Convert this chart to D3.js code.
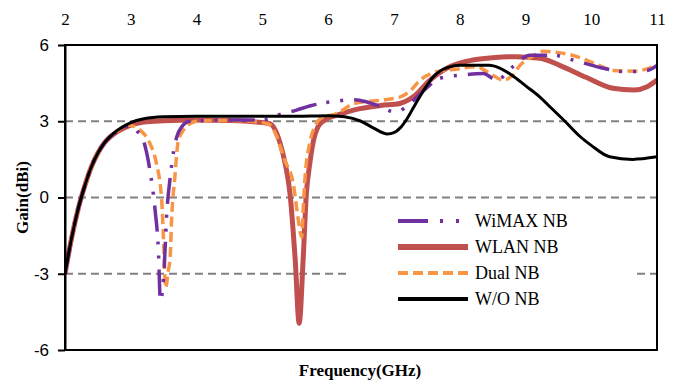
<!DOCTYPE html>
<html>
<head>
<meta charset="utf-8">
<script src="https://cdn.jsdelivr.net/npm/d3@7"></script>
<style>
  body { margin: 0; background: #fff; }
  .serif { font-family: "Liberation Serif", "Times New Roman", serif; }
  .sans { font-family: "Liberation Sans", Arial, sans-serif; }
</style>
</head>
<body>
<div id="chart"></div>
<script>
// frequency ticks (GHz) and gain ticks (dBi)
var freqTicks = [2, 3, 4, 5, 6, 7, 8, 9, 10, 11];
var gainTicks = [-6, -3, 0, 3, 6];
var gridValues = [-3, 0, 3];

// [frequency, gain]
var wimaxNB = [[2.0,-3],[2.1,-1.6],[2.2,-0.45],[2.3,0.45],[2.4,1.2],[2.5,1.75],[2.6,2.15],[2.8,2.62],[3.0,2.82],[3.1,2.6],
  [3.19,2.26],[3.29,1.08],[3.37,-0.5],[3.42,-2.07],[3.45,-4.05],[3.5,-3.12],[3.55,-0.5],[3.6,0.8],[3.65,1.8],[3.7,2.39],
  [3.78,2.8],[3.9,3.0],[4.5,3.05],[5.0,3.05],[5.27,3.27],[5.52,3.44],[5.72,3.6],[6.15,3.8],[6.4,3.85],[6.6,3.75],
  [6.8,3.57],[6.95,3.4],[7.04,3.37],[7.19,3.57],[7.45,4.2],[7.7,4.69],[8.05,4.82],[8.36,4.88],[8.56,4.62],[8.81,5.15],
  [9.07,5.6],[9.42,5.6],[9.72,5.41],[10.08,5.15],[10.53,4.95],[10.85,5.0],[11,5.2]];

var wlanNB = [[2.0,-3],[2.1,-1.6],[2.2,-0.45],[2.3,0.45],[2.4,1.2],[2.5,1.75],[2.6,2.15],[2.8,2.6],[3.0,2.85],[3.2,2.97],
  [3.5,3.02],[4.0,3.05],[4.5,3.03],[5.0,2.95],[5.12,2.9],[5.27,2.14],[5.35,1.3],[5.42,0.17],[5.5,-2.46],[5.56,-4.95],
  [5.62,-2.46],[5.67,0.17],[5.72,1.3],[5.77,2.14],[5.85,2.8],[5.95,3.05],[6.15,3.25],[6.4,3.45],[6.8,3.62],[7.09,3.7],
  [7.3,3.97],[7.55,4.62],[7.8,5.08],[8.2,5.41],[8.5,5.5],[8.85,5.54],[9.22,5.48],[9.52,5.2],[9.93,4.72],[10.33,4.3],
  [10.65,4.23],[10.85,4.36],[11,4.62]];

var dualNB = [[2.0,-3],[2.1,-1.6],[2.2,-0.45],[2.3,0.45],[2.4,1.2],[2.5,1.75],[2.6,2.15],[2.8,2.62],[2.94,2.85],[3.05,2.8],
  [3.14,2.65],[3.29,2.13],[3.39,1.34],[3.47,-0.1],[3.5,-1.8],[3.53,-3.55],[3.57,-2.9],[3.6,-2.3],[3.62,-0.9],[3.67,0.8],
  [3.72,2.2],[3.8,2.65],[3.9,2.9],[4.05,3.02],[4.5,3.03],[5.0,2.95],[5.12,2.85],[5.22,2.39],[5.34,1.47],[5.47,0.55],
  [5.54,-0.76],[5.6,-1.55],[5.62,-0.5],[5.65,0.8],[5.72,2.14],[5.8,2.8],[5.88,3.1],[6.13,3.3],[6.4,3.7],[6.8,3.83],
  [7.09,3.95],[7.25,4.2],[7.4,4.62],[7.65,4.95],[7.95,5.05],[8.25,5.15],[8.46,4.88],[8.66,4.62],[8.8,4.8],[8.92,5.21],
  [9.1,5.55],[9.27,5.75],[9.5,5.7],[9.68,5.62],[10.03,5.3],[10.33,5.0],[10.65,4.97],[11,5.2]];

var woNB = [[2.0,-3],[2.1,-1.6],[2.2,-0.45],[2.3,0.45],[2.4,1.2],[2.5,1.75],[2.6,2.15],[2.8,2.65],[3.0,2.95],[3.2,3.1],
  [3.5,3.18],[4.0,3.2],[5.0,3.2],[5.5,3.2],[6.0,3.22],[6.25,3.18],[6.5,3.0],[6.7,2.72],[6.9,2.5],[7.0,2.55],
  [7.1,2.75],[7.2,3.1],[7.3,3.55],[7.45,4.2],[7.6,4.75],[7.8,5.1],[8.0,5.2],[8.45,5.2],[8.6,5.1],[8.8,4.8],
  [9.0,4.4],[9.2,4.0],[9.4,3.5],[9.6,3.0],[9.83,2.4],[10.0,2.05],[10.28,1.6],[10.63,1.5],[11,1.6]];

var seriesNames = ["WiMAX NB", "WLAN NB", "Dual NB", "W/O NB"];

var width = 683, height = 385;
var margin = {top: 45, right: 26, bottom: 35, left: 65};
var w = width - margin.left - margin.right,
    h = height - margin.top - margin.bottom;

var svg = d3.select("#chart").append("svg")
    .attr("width", width)
    .attr("height", height);

var g = svg.append("g")
    .attr("transform", "translate(" + margin.left + "," + margin.top + ")");

var x = d3.scaleLinear().domain([2, 11]).range([0, w]);
var y = d3.scaleLinear().domain([-6, 6]).range([h, 0]);

// dashed grid lines
g.selectAll("line.grid")
  .data(gridValues)
  .enter()
  .append("line")
    .attr("class", "grid")
    .attr("x1", 0)
    .attr("x2", w)
    .attr("y1", function(d) { return y(d); })
    .attr("y2", function(d) { return y(d); })
    .attr("stroke", "#808080")
    .attr("stroke-width", 2)
    .attr("stroke-dasharray", "8,5");

var styles = [
  {data: wlanNB,  color: "#C0504D", width: 5,   dash: null, legendWidth: 6, legendDash: null},
  {data: dualNB,  color: "#F79646", width: 3.5, dash: "10,5", legendWidth: 4, legendDash: "10,5"},
  {data: wimaxNB, color: "#7030A0", width: 3.5, dash: "26,10,3,11,3,11", legendWidth: 4, legendDash: "30,12,3,13,3,13"},
  {data: woNB,    color: "#000000", width: 3,   dash: null, legendWidth: 4, legendDash: null}
];

var line = d3.line()
    .x(function(d) { return x(d[0]); })
    .y(function(d) { return y(d[1]); })
    .curve(d3.curveMonotoneX);

svg.append("clipPath").attr("id", "clip")
  .append("rect").attr("x", 0).attr("y", -4).attr("width", w).attr("height", h + 8);

styles.forEach(function(s) {
  g.append("path")
    .datum(s.data)
    .attr("clip-path", "url(#clip)")
    .attr("d", line)
    .attr("fill", "none")
    .attr("stroke", s.color)
    .attr("stroke-width", s.width)
    .attr("stroke-dasharray", s.dash)
    .attr("stroke-linejoin", "round");
});

// plot frame
g.append("rect")
  .attr("width", w)
  .attr("height", h)
  .attr("fill", "none")
  .attr("stroke", "#000")
  .attr("stroke-width", 2);

// y axis (plain hyphen for negatives, as in the original)
var yAxis = g.append("g")
  .call(d3.axisLeft(y).tickValues(gainTicks).tickSize(7).tickSizeOuter(0).tickPadding(9)
    .tickFormat(function(d) { return String(d); }));
yAxis.select(".domain").attr("stroke-width", 2);
yAxis.selectAll("line").attr("stroke-width", 2);
yAxis.selectAll("text")
  .attr("class", "sans")
  .style("font-size", "17px")
  .attr("fill", "#000");

// top x labels
var xAxis = g.append("g")
  .call(d3.axisTop(x).tickValues(freqTicks).tickSize(0).tickPadding(20));
xAxis.select(".domain").remove();
xAxis.selectAll("text")
  .attr("class", "serif")
  .style("font-size", "17px")
  .attr("fill", "#000");

// axis titles
svg.append("text")
  .attr("class", "serif")
  .attr("transform", "translate(28," + (margin.top + y(0)) + ") rotate(-90)")
  .attr("text-anchor", "middle")
  .style("font-size", "17px")
  .style("font-weight", "bold")
  .text("Gain(dBi)");

svg.append("text")
  .attr("class", "serif")
  .attr("x", 360)
  .attr("y", 376)
  .attr("text-anchor", "middle")
  .style("font-size", "17px")
  .style("font-weight", "bold")
  .text("Frequency(GHz)");

// legend
var legend = svg.append("g").attr("transform", "translate(348,207)");
legend.append("rect")
  .attr("width", 287)
  .attr("height", 104)
  .attr("fill", "#fff");

var legendOrder = [styles[2], styles[0], styles[1], styles[3]];
legendOrder.forEach(function(s, i) {
  var ly = 14 + i * 26;
  legend.append("line")
    .attr("x1", 50).attr("x2", 120)
    .attr("y1", ly).attr("y2", ly)
    .attr("stroke", s.color)
    .attr("stroke-width", s.legendWidth)
    .attr("stroke-dasharray", s.legendDash);
  legend.append("text")
    .attr("class", "serif")
    .attr("x", 127)
    .attr("y", ly + 6)
    .style("font-size", "18px")
    .text(seriesNames[i]);
});
</script>
</body>
</html>
